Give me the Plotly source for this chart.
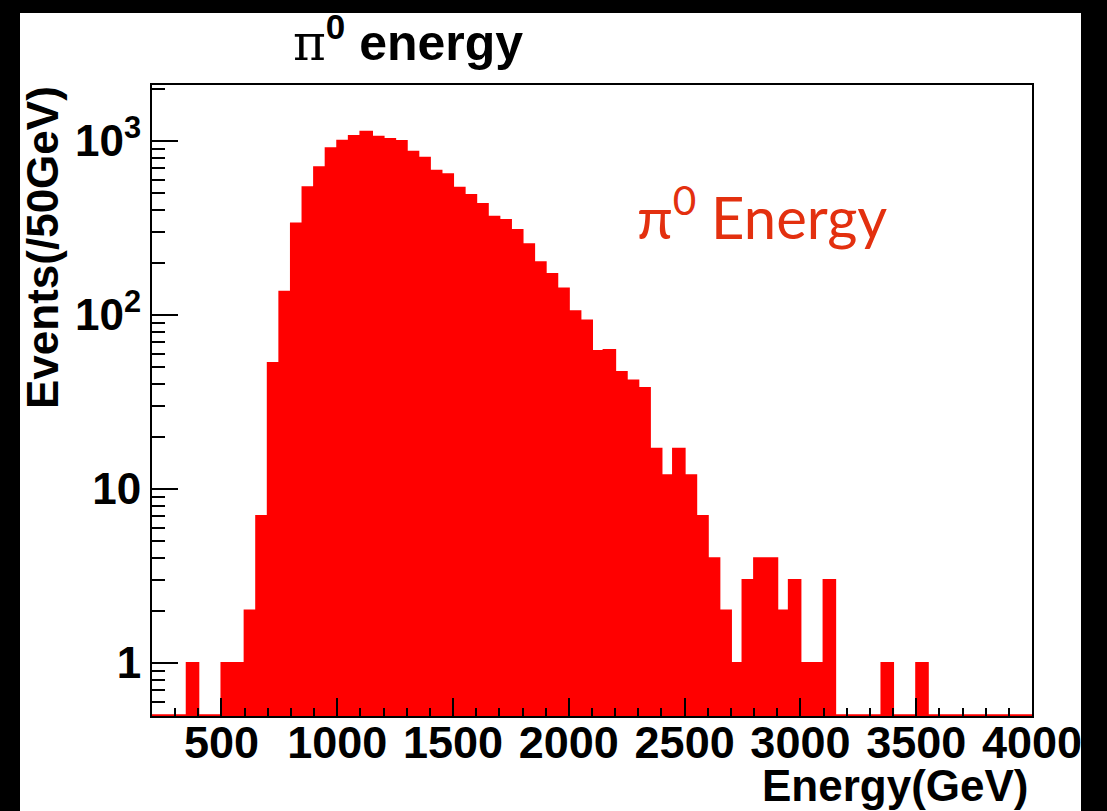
import plotly.graph_objects as go

# ---- data (50 GeV bins, lower edges) ----
bin_width = 50
bin_low = list(range(200, 4000, 50))
counts = [
    0, 0, 0, 1, 0, 0, 1, 1, 2, 7,            # 200-650
    53, 136, 336, 542, 706, 908, 1004, 1069, 1130, 1059,   # 700-1150
    1026, 1000, 869, 801, 674, 645, 539, 490, 435, 367,    # 1200-1650
    351, 308, 255, 201, 172, 142, 105, 93, 62, 63,         # 1700-2150
    47, 42, 38, 17, 12, 17, 12, 7, 4, 2,                   # 2200-2650
    1, 3, 4, 4, 2, 3, 1, 1, 3, 0,                          # 2700-3150
    0, 0, 0, 1, 0, 0, 1, 0, 0, 0,                          # 3200-3650
    0, 0, 0, 0, 0, 0,                                      # 3700-3950
]
x_tickvals = [500, 1000, 1500, 2000, 2500, 3000, 3500, 4000]
y_tickvals = [1, 10, 100, 1000]
y_ticktext = ["1", "10", "10<sup>2</sup>", "10<sup>3</sup>"]
y_minor = [0.5, 0.6, 0.7, 0.8, 0.9] + [m * d for d in (1, 10, 100) for m in range(2, 10)] + [2000]

YMIN_LOG, YMAX_LOG = -0.305, 3.322
ymin = 10 ** YMIN_LOG

centers = [b + bin_width / 2 for b in bin_low]
nz_x = [c for c, v in zip(centers, counts) if v > 0]
nz_y = [v for v in counts if v > 0]

# step outline (zero bins drawn at the axis floor, like ROOT)
step_x = bin_low + [bin_low[-1] + bin_width]
step_y = [max(v, ymin * 1.01) for v in counts] + [max(counts[-1], ymin * 1.01)]

RED = "#FF0000"
FONT = "Liberation Sans, Arial, Helvetica, sans-serif"

fig = go.Figure()
fig.add_trace(go.Bar(x=nz_x, y=nz_y, width=bin_width, marker=dict(color=RED, line=dict(width=0)),
                     showlegend=False, hoverinfo="skip"))
fig.add_trace(go.Scatter(x=step_x, y=step_y, mode="lines", line=dict(color=RED, width=2, shape="hv"),
                         showlegend=False, hoverinfo="skip"))

W, H = 1107, 811
L, R, T, B = 152, 1032, 85, 716

def px(xp):
    return (xp - L) / (R - L)

def py(yp):
    return (B - yp) / (B - T)

fig.update_layout(
    width=W, height=H,
    margin=dict(l=L, r=W - R, t=T, b=H - B, pad=0),
    paper_bgcolor="white", plot_bgcolor="white",
    bargap=0,
    font=dict(family=FONT, color="black"),
    title=dict(
        text="<span style='font-family:DejaVu Serif;font-weight:normal'>π</span><sup>0</sup> energy",
        font=dict(size=50, family=FONT, weight="bold", color="black"),
        x=408 / W, xref="container", xanchor="center",
        y=1 - 42 / H, yref="container", yanchor="middle",
    ),
    xaxis=dict(
        range=[200, 4000], tickvals=x_tickvals, ticks="inside", ticklen=18, tickwidth=2,
        tickcolor="black", showgrid=False, zeroline=False,
        showline=True, linecolor="black", linewidth=2, mirror=True,
        tickfont=dict(size=45, family=FONT, weight="bold", color="black"),
        ticklabelstandoff=-14,
        minor=dict(dtick=100, ticks="inside", ticklen=8, tickwidth=1.5, tickcolor="black", showgrid=False),
    ),
    yaxis=dict(
        type="log", range=[YMIN_LOG, YMAX_LOG], tickvals=y_tickvals, ticktext=y_ticktext,
        ticks="inside", ticklen=26, tickwidth=2, tickcolor="black", showgrid=False, zeroline=False,
        showline=True, linecolor="black", linewidth=2, mirror=True,
        tickfont=dict(size=44, family=FONT, weight="bold", color="black"),
        minor=dict(tickvals=y_minor, ticks="inside", ticklen=13, tickwidth=1.5, tickcolor="black", showgrid=False),
    ),
    annotations=[
        dict(text="Events(/50GeV)", xref="paper", yref="paper", x=px(42), y=py(248),
             textangle=-90, showarrow=False, xanchor="center", yanchor="middle",
             font=dict(size=44, family=FONT, weight="bold", color="black")),
        dict(text="Energy(GeV)", xref="paper", yref="paper", x=px(1031), y=py(785),
             showarrow=False, xanchor="right", yanchor="middle",
             font=dict(size=44, family=FONT, weight="bold", color="black")),
        dict(text="π<sup>0</sup> Energy", xref="paper", yref="paper", x=px(762), y=py(213),
             showarrow=False, xanchor="center", yanchor="middle",
             font=dict(size=58, family="Lato, Open Sans, sans-serif", color="#E3300F")),
    ],
    shapes=[
        dict(type="rect", xref="paper", yref="paper", x0=px(0), x1=px(20), y0=py(H), y1=py(0),
             fillcolor="black", line=dict(width=0), layer="above"),
        dict(type="rect", xref="paper", yref="paper", x0=px(1081), x1=px(W), y0=py(H), y1=py(0),
             fillcolor="black", line=dict(width=0), layer="above"),
        dict(type="rect", xref="paper", yref="paper", x0=px(0), x1=px(W), y0=py(13), y1=py(0),
             fillcolor="black", line=dict(width=0), layer="above"),
    ],
)

fig.write_html("out.html")
